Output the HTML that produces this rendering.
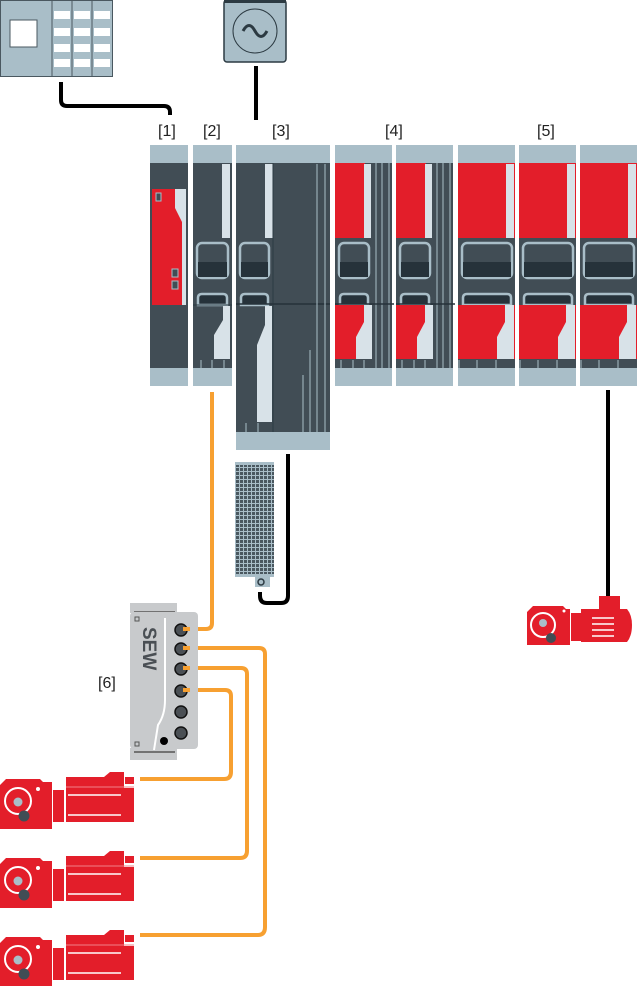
<!DOCTYPE html>
<html><head><meta charset="utf-8"><style>
html,body{margin:0;padding:0;background:#fff;}
svg{display:block;}
text{font-family:"Liberation Sans",sans-serif;font-size:16px;fill:#222;}
</style></head><body>
<svg width="637" height="986" viewBox="0 0 637 986" xmlns="http://www.w3.org/2000/svg">
<defs>
<pattern id="grid" width="4" height="4" patternUnits="userSpaceOnUse">
<rect width="4" height="4" fill="#a9bec8"/><rect x="0" y="0" width="3" height="3" fill="#4a5860"/>
</pattern>
<g id="motor">
<path d="M0,785 L6,779 L40,779 L43,782 L52,782 L52,829 L0,829 Z" fill="#e31e2a"/>
<circle cx="18" cy="801" r="13" fill="none" stroke="#fff" stroke-width="2"/>
<circle cx="38" cy="789" r="2" fill="#fff"/>
<circle cx="18" cy="802" r="4.5" fill="#a9bec8"/>
<circle cx="24" cy="816" r="5.5" fill="#414d55"/>
<rect x="53" y="790" width="11" height="32" fill="#e31e2a"/>
<path d="M66,777 L104,777 L110,772 L124,772 L124,822 L66,822 Z" fill="#e31e2a"/>
<rect x="125" y="777" width="9" height="7" fill="#e31e2a"/>
<rect x="124" y="788" width="10" height="34" fill="#e31e2a"/>
<line x1="66" y1="787" x2="134" y2="787" stroke="#f08088" stroke-width="1"/>
<line x1="68" y1="795" x2="121" y2="795" stroke="#fff" stroke-width="1.5"/>
<line x1="68" y1="815" x2="121" y2="815" stroke="#fff" stroke-width="1.5"/>
</g>
</defs>

<!-- PLC -->
<rect x="0.5" y="0.5" width="112" height="76" fill="#a9bec8" stroke="#4a5860"/>
<rect x="10" y="20" width="27" height="27" fill="#fff" stroke="#4a5860"/>
<line x1="52" y1="0" x2="52" y2="77" stroke="#4a5860"/>
<line x1="72" y1="0" x2="72" y2="77" stroke="#4a5860"/>
<line x1="92" y1="0" x2="92" y2="77" stroke="#4a5860"/>
<g fill="#fff">
<rect x="54" y="11" width="16" height="8"/><rect x="74" y="11" width="16" height="8"/><rect x="94" y="11" width="16" height="8"/>
<rect x="54" y="28" width="16" height="8"/><rect x="74" y="28" width="16" height="8"/><rect x="94" y="28" width="16" height="8"/>
<rect x="54" y="44" width="16" height="8"/><rect x="74" y="44" width="16" height="8"/><rect x="94" y="44" width="16" height="8"/>
<rect x="54" y="59" width="16" height="8"/><rect x="74" y="59" width="16" height="8"/><rect x="94" y="59" width="16" height="8"/>
</g>
<path d="M61,82 L61,100 Q61,106 67,106 L164,106 Q170,106 170,112 L170,115" fill="none" stroke="#000" stroke-width="4"/>

<!-- AC source -->
<rect x="224" y="0" width="62" height="62" rx="3" fill="#a9bec8" stroke="#2c3a42" stroke-width="1.5"/>
<rect x="224" y="0" width="62" height="3" fill="#2c3a42"/>
<circle cx="255" cy="31" r="22" fill="none" stroke="#2c3a42" stroke-width="1"/>
<path d="M243,31 Q249,20 255,31 Q261,42 267,31" fill="none" stroke="#2c3a42" stroke-width="3"/>
<line x1="256" y1="66" x2="256" y2="120" stroke="#000" stroke-width="4"/>

<!-- labels -->
<text x="158" y="136">[1]</text>
<text x="203" y="136">[2]</text>
<text x="272" y="136">[3]</text>
<text x="385" y="136">[4]</text>
<text x="537" y="136">[5]</text>
<text x="98" y="688">[6]</text>

<!-- module 1 -->
<rect x="150" y="145" width="38" height="18" fill="#a9bec8"/>
<rect x="150" y="163" width="38" height="206" fill="#414d55"/>
<path d="M152,189 L183,189 L183,305 L152,305 Z" fill="#e31e2a"/>
<path d="M175,189 L186,189 L186,305 L182,305 L182,222 L175,208 Z" fill="#d8e2e8"/>
<rect x="156" y="193" width="5" height="8" fill="#414d55" stroke="#a9bec8"/>
<rect x="172" y="269" width="6" height="8" fill="#414d55" stroke="#a9bec8"/>
<rect x="172" y="281" width="6" height="8" fill="#414d55" stroke="#a9bec8"/>
<rect x="150" y="368" width="38" height="18" fill="#a9bec8"/>

<!-- module 2 -->
<rect x="193" y="145" width="39" height="18" fill="#a9bec8"/>
<rect x="193" y="163" width="39" height="206" fill="#414d55"/>
<rect x="222" y="164" width="8" height="74" fill="#d8e2e8"/>
<rect x="197" y="243" width="31" height="35" rx="5" fill="#414d55" stroke="#a9bec8" stroke-width="2.5"/>
<rect x="198" y="262" width="29" height="15" fill="#26323a"/>
<path d="M198,305 L198,298 Q198,294 202,294 L223,294 Q227,294 227,298 L227,305 Z" fill="#26323a" stroke="#a9bec8" stroke-width="2.5"/>
<line x1="193" y1="305" x2="232" y2="305" stroke="#2c3a42"/>
<path d="M223,306 L230,306 L230,359 L214,359 L214,335 L223,320 Z" fill="#d8e2e8"/>
<line x1="201" y1="360" x2="201" y2="368" stroke="#a9bec8"/>
<line x1="212" y1="360" x2="212" y2="368" stroke="#a9bec8"/>
<line x1="224" y1="360" x2="224" y2="368" stroke="#a9bec8"/>
<rect x="193" y="368" width="39" height="18" fill="#a9bec8"/>

<!-- module 3 -->
<rect x="236" y="145" width="94" height="18" fill="#a9bec8"/>
<rect x="236" y="163" width="94" height="270" fill="#414d55"/>
<rect x="265" y="164" width="8" height="74" fill="#d8e2e8"/>
<line x1="273" y1="163" x2="273" y2="432" stroke="#2c3a42"/>
<rect x="240" y="243" width="29" height="35" rx="5" fill="#414d55" stroke="#a9bec8" stroke-width="2.5"/>
<rect x="241" y="262" width="27" height="15" fill="#26323a"/>
<path d="M241,305 L241,298 Q241,294 245,294 L264,294 Q268,294 268,298 L268,305 Z" fill="#26323a" stroke="#a9bec8" stroke-width="2.5"/>
<line x1="236" y1="304" x2="330" y2="304" stroke="#26323a" stroke-width="1.5"/>
<path d="M265,306 L272,306 L272,422 L257,422 L257,345 L265,325 Z" fill="#d8e2e8"/>
<g stroke="#a9bec8" stroke-width="1">
<line x1="317" y1="164" x2="317" y2="432"/><line x1="325" y1="164" x2="325" y2="432"/>
<line x1="310" y1="350" x2="310" y2="432"/><line x1="303" y1="375" x2="303" y2="432"/>
<line x1="246" y1="423" x2="246" y2="432"/><line x1="258" y1="423" x2="258" y2="432"/>
</g>
<rect x="236" y="432" width="94" height="18" fill="#a9bec8"/>

<!-- module 4 and 5 -->
<g id="m4">
<rect x="335" y="145" width="57" height="18" fill="#a9bec8"/>
<rect x="335" y="163" width="57" height="206" fill="#414d55"/>
<rect x="335" y="163" width="30" height="75" fill="#e31e2a"/>
<rect x="364" y="164" width="7" height="74" fill="#d8e2e8"/>
<g stroke="#a9bec8"><line x1="376" y1="163" x2="376" y2="368"/><line x1="382" y1="163" x2="382" y2="368"/><line x1="389" y1="163" x2="389" y2="368"/></g>
<rect x="339" y="243" width="30" height="35" rx="5" fill="#414d55" stroke="#a9bec8" stroke-width="2.5"/>
<rect x="340" y="262" width="28" height="15" fill="#26323a"/>
<path d="M340,305 L340,298 Q340,294 344,294 L364,294 Q368,294 368,298 L368,305 Z" fill="#26323a" stroke="#a9bec8" stroke-width="2.5"/>
<line x1="335" y1="304" x2="394" y2="304" stroke="#26323a" stroke-width="1.5"/>
<path d="M335,305 L365,305 L365,359 L335,359 Z" fill="#e31e2a"/>
<path d="M364,305 L372,305 L372,359 L356,359 L356,337 L364,322 Z" fill="#d8e2e8"/>
<g stroke="#a9bec8"><line x1="341" y1="360" x2="341" y2="368"/><line x1="353" y1="360" x2="353" y2="368"/><line x1="364" y1="360" x2="364" y2="368"/></g>
<rect x="335" y="368" width="57" height="18" fill="#a9bec8"/>
</g>
<use href="#m4" transform="translate(61,0)"/>

<g id="m5">
<rect x="458" y="145" width="57" height="18" fill="#a9bec8"/>
<rect x="458" y="163" width="57" height="206" fill="#414d55"/>
<rect x="458" y="163" width="57" height="75" fill="#e31e2a"/>
<rect x="506" y="164" width="8" height="74" fill="#d8e2e8"/>
<rect x="462" y="243" width="50" height="35" rx="5" fill="#414d55" stroke="#a9bec8" stroke-width="2.5"/>
<rect x="463" y="262" width="48" height="15" fill="#26323a"/>
<path d="M463,305 L463,298 Q463,294 467,294 L507,294 Q511,294 511,298 L511,305 Z" fill="#26323a" stroke="#a9bec8" stroke-width="2.5"/>
<path d="M458,305 L515,305 L515,359 L458,359 Z" fill="#e31e2a"/>
<path d="M505,305 L514,305 L514,359 L497,359 L497,337 L505,322 Z" fill="#d8e2e8"/>
<g stroke="#a9bec8"><line x1="459" y1="360" x2="459" y2="368"/><line x1="477" y1="360" x2="477" y2="368"/><line x1="496" y1="360" x2="496" y2="368"/></g>
<rect x="458" y="368" width="57" height="18" fill="#a9bec8"/>
</g>
<use href="#m5" transform="translate(61,0)"/>
<use href="#m5" transform="translate(122,0)"/>

<!-- resistor -->
<rect x="235" y="462" width="39" height="115" fill="url(#grid)"/>
<rect x="235" y="462" width="39" height="3" fill="#a9bec8"/>
<rect x="235" y="574" width="39" height="3" fill="#a9bec8"/>
<rect x="255" y="577" width="15" height="10" fill="#a9bec8"/>
<circle cx="261" cy="582" r="3" fill="none" stroke="#2c3a42" stroke-width="1.5"/>
<path d="M288,454 L288,596 Q288,603 281,603 L267,603 Q260,603 260,596 L260,592" fill="none" stroke="#000" stroke-width="4"/>

<!-- right motor -->
<line x1="608" y1="390" x2="608" y2="596" stroke="#000" stroke-width="4"/>
<rect x="599" y="596" width="21" height="13" fill="#e31e2a"/>
<path d="M527,612 L533,606 L563,606 L566,609 L570,609 L570,645 L527,645 Z" fill="#e31e2a"/>
<circle cx="543" cy="625" r="12" fill="none" stroke="#fff" stroke-width="2"/>
<circle cx="564" cy="611" r="1.5" fill="#fff"/>
<circle cx="543" cy="623" r="4" fill="#a9bec8"/>
<circle cx="551" cy="638" r="5" fill="#414d55"/>
<rect x="581" y="609" width="42" height="33" fill="#e31e2a"/>
<path d="M623,609 L627,609 Q632,615 632,625 Q632,636 627,642 L623,642 Z" fill="#e31e2a"/>
<g stroke="#fff" stroke-width="1.5"><line x1="592" y1="618" x2="614" y2="618"/><line x1="592" y1="624" x2="614" y2="624"/><line x1="592" y1="630" x2="614" y2="630"/><line x1="592" y1="636" x2="614" y2="636"/></g>
<rect x="571" y="613" width="10" height="28" fill="#e31e2a"/>

<!-- orange cables -->
<g fill="none" stroke="#f7a031" stroke-width="4">
<path d="M212,392 L212,623 Q212,629 206,629 L186,629"/>
<path d="M186,648 L259,648 Q265,648 265,654 L265,927 Q265,935 258,935 L140,935"/>
<path d="M186,668 L241,668 Q247,668 247,674 L247,851 Q247,858 240,858 L140,858"/>
<path d="M186,690 L225,690 Q231,690 231,696 L231,772 Q231,779 224,779 L140,779"/>
</g>

<!-- SEW box -->
<rect x="130" y="603" width="47" height="10" fill="#c8cacc"/>
<line x1="134" y1="612" x2="175" y2="612" stroke="#555" stroke-width="1.5"/>
<rect x="130" y="612" width="68" height="137" rx="4" fill="#c8cacc"/>
<rect x="130" y="748" width="47" height="12" fill="#c8cacc"/>
<line x1="134" y1="752" x2="175" y2="752" stroke="#555" stroke-width="1.5"/>
<path d="M165,618 L165,700 Q165,715 158,725 L154,750" fill="none" stroke="#fff" stroke-width="2"/>
<rect x="135" y="617" width="4" height="4" fill="none" stroke="#555"/>
<rect x="135" y="742" width="4" height="4" fill="none" stroke="#555"/>
<text x="0" y="0" transform="translate(143,627) rotate(90)" style="font-size:19px;font-weight:bold;fill:#4a4f54">SEW</text>
<circle cx="164" cy="741" r="4" fill="#000"/>
<g fill="#4a4f54" stroke="#111" stroke-width="1.5">
<circle cx="181" cy="630" r="6"/><circle cx="181" cy="649" r="6"/><circle cx="181" cy="669" r="6"/>
<circle cx="181" cy="691" r="6"/><circle cx="181" cy="712" r="6"/><circle cx="181" cy="733" r="6"/>
</g>
<g stroke="#f7a031" stroke-width="4"><line x1="183" y1="629" x2="190" y2="629"/><line x1="183" y1="648" x2="190" y2="648"/><line x1="183" y1="668" x2="190" y2="668"/><line x1="183" y1="690" x2="190" y2="690"/></g>

<!-- motors -->
<use href="#motor"/>
<use href="#motor" transform="translate(0,79)"/>
<use href="#motor" transform="translate(0,158)"/>
</svg>
</body></html>
